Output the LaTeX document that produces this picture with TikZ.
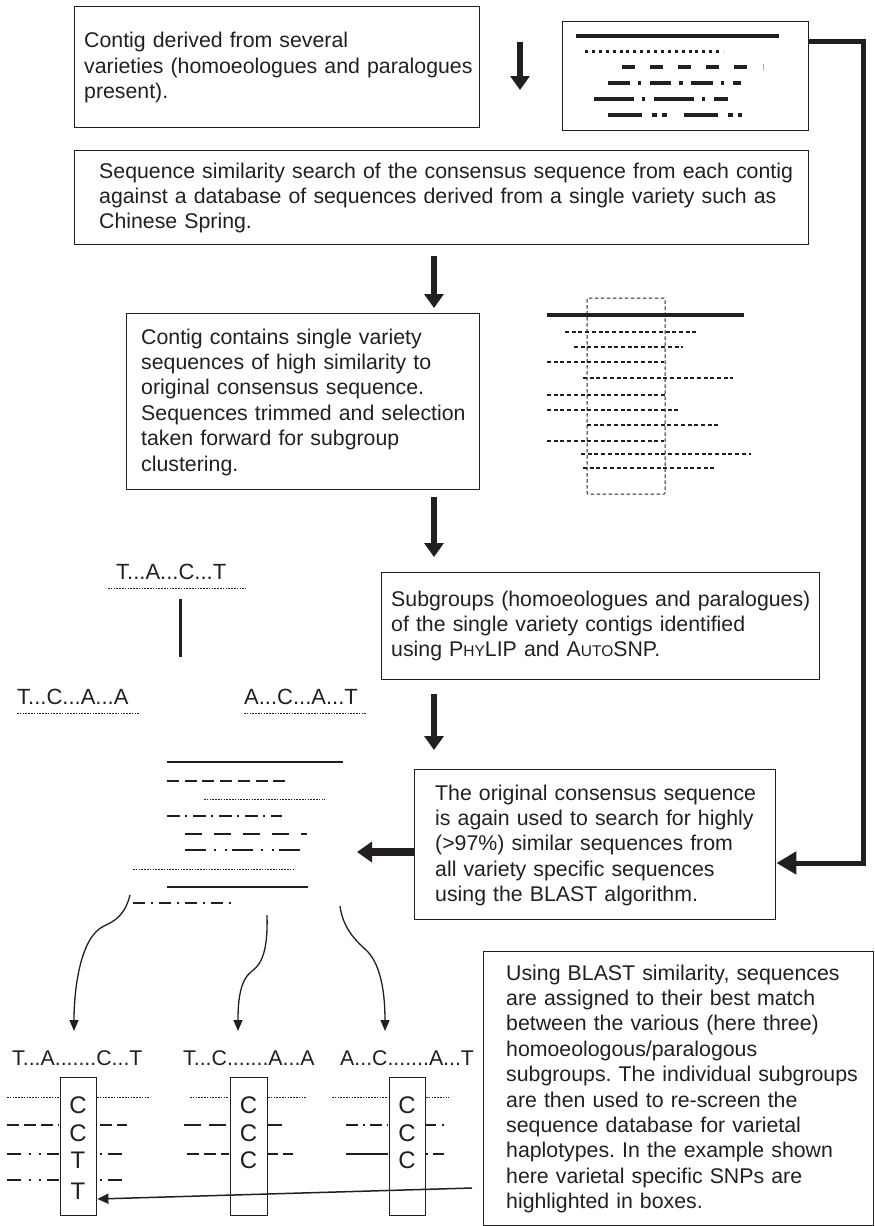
\documentclass[tikz,border=0pt]{standalone}
\usepackage{fontspec}
\setmainfont{Liberation Sans}
\usetikzlibrary{arrows.meta,calc}
\definecolor{ink}{HTML}{231F20}
\frenchspacing
\newcommand\bodyfont{\fontsize{21.3pt}{25.4pt}\selectfont}
\newcommand\treefont{\fontsize{22pt}{25pt}\selectfont}
\newcommand\basefont{\fontsize{24pt}{28pt}\selectfont}
\newcommand\scfont{\fontsize{15.5pt}{15.5pt}\selectfont}
\begin{document}
\begin{tikzpicture}[x=1pt,y=-1pt,
  box/.style={draw=ink, line width=1.4pt, rectangle, inner sep=0pt, anchor=north west},
  txt/.style={font=\bodyfont, align=left, anchor=base west, inner sep=0pt, text=ink},
  fat/.style={draw=ink, line width=6pt, -{Triangle[length=14pt,width=19pt]}},
  fatl/.style={draw=ink, line width=8pt, -{Triangle[length=15pt,width=20pt]}},
  conn/.style={draw=ink, line width=5pt, -{Triangle[length=20pt,width=22pt]}},
  thinarrow/.style={draw=ink, line width=1.3pt, -{Triangle[length=11pt,width=9pt]}},
  fine/.style={draw=ink, line width=0.9pt, dash pattern=on 1.6pt off 1.2pt},
  seq/.style={draw=ink, line width=1.5pt},
]
\useasboundingbox (0,0) rectangle (875,1226);

% ---------- boxes ----------
\node[box, minimum width=405pt, minimum height=121.5pt] (b1) at (74,5.5) {};
\node[box, minimum width=246pt, minimum height=109pt] (b2) at (562,21) {};
\node[box, minimum width=734pt, minimum height=94pt] (b3) at (74,150) {};
\node[box, minimum width=353pt, minimum height=176pt] (b4) at (126,313) {};
\node[box, minimum width=438pt, minimum height=107.5pt] (b5) at (381,571.5) {};
\node[box, minimum width=361pt, minimum height=150pt] (b6) at (414,769) {};
\node[box, minimum width=390pt, minimum height=273.5pt] (b7) at (483,951) {};

% ---------- texts ----------
\node[txt, text width=400pt] (t1) at (84,47.7) {Contig derived from several\\varieties (homoeologues and paralogues\\present).};
\node[txt, text width=720pt] (t3) at (99,178) {Sequence similarity search of the consensus sequence from each contig\\against a database of sequences derived from a single variety such as\\Chinese Spring.};
\node[txt, text width=340pt] (t4) at (141,344) {Contig contains single variety\\sequences of high similarity to\\original consensus sequence.\\Sequences trimmed and selection\\taken forward for subgroup\\clustering.};
\node[txt, text width=430pt] (t5) at (391,606) {Subgroups (homoeologues and paralogues)\\of the single variety contigs identified\\using P{\scfont HY}LIP and A{\scfont UTO}SNP.};
\node[txt, text width=350pt] (t6) at (435,800) {The original consensus sequence\\is again used to search for highly\\(>97\%) similar sequences from\\all variety specific sequences\\using the BLAST algorithm.};
\node[txt, text width=380pt] (t7) at (506,980) {Using BLAST similarity, sequences\\are assigned to their best match\\between the various (here three)\\homoeologous/paralogous\\subgroups. The individual subgroups\\are then used to re-screen the\\sequence database for varietal\\haplotypes. In the example shown\\here varietal specific SNPs are\\highlighted in boxes.};

% ---------- main down arrows ----------
\coordinate (a1s) at (520,42);  \coordinate (a1e) at (520,90);
\coordinate (a2s) at (434,256); \coordinate (a2e) at (434,308);
\coordinate (a3s) at (434,497); \coordinate (a3e) at (434,557);
\coordinate (a4s) at (434,694); \coordinate (a4e) at (434,750);
\draw[fat] (a1s) -- (a1e);
\draw[fat] (a2s) -- (a2e);
\draw[fat] (a3s) -- (a3e);
\draw[fat] (a4s) -- (a4e);

% ---------- right connector from box 2 to box 6 ----------
\draw[conn] ([yshift=-20pt]b2.north east) -- ++(54,0) |- ([yshift=-94pt]b6.north east);

% ---------- arrow from box 6 to alignment ----------
\coordinate (la) at (357,852);
\draw[fatl] ([yshift=-83pt]b6.north west) -- (la);

% ---------- box 2 contents ----------
\draw[ink, line width=4.5pt] (576,36) -- (779,36);
\draw[ink, line width=3pt, dash pattern=on 3pt off 3.9pt] (585,51) -- (723,51);
\draw[ink, line width=3.5pt, dash pattern=on 13pt off 15pt] (622,67) -- (748,67);
\draw[ink!40, line width=1pt] (763,64) -- (763,70);
\draw[ink, line width=3.5pt, dash pattern=on 21.7pt off 8pt on 3.3pt off 8.7pt] (608,83) -- (741,83);
\draw[ink, line width=3.5pt, dash pattern=on 40pt off 8pt on 3.3pt off 8.7pt] (594,99) -- (728,99);
\draw[ink, line width=3.5pt, dash pattern=on 34pt off 10pt on 5pt off 5pt on 4.5pt off 17pt] (608,115) -- (749,115);

% ---------- right middle alignment ----------
\draw[ink, line width=1pt, dash pattern=on 3.5pt off 2.5pt, rounded corners=1pt] (587,298) rectangle (665,494);
\draw[ink, line width=4pt] (547,315) -- (744,315);
\foreach \xa/\xb/\yy in {565/697/332, 574/683/347, 547/664/362, 583/733/378, 547/665/395, 547/679/410, 587/718/425, 547/664/441, 581/751/454, 583/714/468}
  \draw[ink, line width=1.6pt, dash pattern=on 4pt off 2.7pt] (\xa,\yy) -- (\xb,\yy);

% ---------- tree ----------
\node[txt, font=\treefont] (r0) at (116,579) {T...A...C...T};
\draw[fine] (108,588) -- (246,588);
\draw[ink, line width=3pt] (180,599) -- (180,657);
\node[txt, font=\treefont] (r1) at (17,704) {T...C...A...A};
\draw[fine] (17,713) -- (140,713);
\node[txt, font=\treefont] (r2) at (244,704) {A...C...A...T};
\draw[fine] (244,713) -- (367,713);

% ---------- middle left alignment ----------
\draw[seq] (167,762) -- (343,762);
\draw[seq, dash pattern=on 12pt off 5.7pt] (167,781) -- (290,781);
\draw[fine] (204,799) -- (325,799);
\draw[seq, dash pattern=on 13pt off 5pt on 2pt off 6pt] (167,816) -- (282,816);
\draw[ink, line width=1.8pt, dash pattern=on 17pt off 12pt] (185,834) -- (307,834);
\draw[ink, line width=1.8pt, dash pattern=on 21pt off 8pt on 2pt off 9pt on 2pt off 5pt] (185,850) -- (307,850);
\draw[fine] (133,869) -- (294,869);
\draw[seq] (167,887) -- (308,887);
\draw[seq, dash pattern=on 12pt off 6pt on 2pt off 6pt] (133,903) -- (232,903);

% ---------- curved arrows ----------
\coordinate (cA) at (130,895); \coordinate (cAe) at (74,1031);
\coordinate (cB) at (267,915); \coordinate (cBe) at (238,1031);
\coordinate (cC) at (340,906); \coordinate (cCe) at (385,1031);
\draw[thinarrow] (cA) .. controls (125,915) and (115,921) .. (104,926) .. controls (80,937) and (74,990) .. (cAe);
\draw[thinarrow] (cB) .. controls (268,950) and (262,964) .. (252,971) .. controls (240,980) and (238,1000) .. (cBe);
\draw[thinarrow] (cC) .. controls (343,928) and (355,940) .. (366,950) .. controls (380,963) and (385,990) .. (cCe);

% ---------- bottom columns ----------
\node[txt] (h1) at (12,1065) {T...A.......C...T};
\node[txt] (h2) at (183,1065) {T...C.......A...A};
\node[txt] (h3) at (340,1065) {A...C.......A...T};

\node[box, minimum width=36pt, minimum height=138pt] (c1) at (60,1077) {};
\node[box, minimum width=37pt, minimum height=138pt] (c2) at (230,1077) {};
\node[box, minimum width=36pt, minimum height=138pt] (c3) at (389,1077) {};

\foreach \n/\xx in {1/78, 2/248.5, 3/407} {
  \node[font=\basefont, text=ink, anchor=base, inner sep=0pt] (s\n a) at (\xx,1113) {C};
  \node[font=\basefont, text=ink, anchor=base, inner sep=0pt] (s\n b) at (\xx,1141) {C};
}
\node[font=\basefont, text=ink, anchor=base, inner sep=0pt] (s1c) at (78,1168) {T};
\node[font=\basefont, text=ink, anchor=base, inner sep=0pt] (s1d) at (78,1199) {T};
\node[font=\basefont, text=ink, anchor=base, inner sep=0pt] (s2c) at (248.5,1168) {C};
\node[font=\basefont, text=ink, anchor=base, inner sep=0pt] (s3c) at (407,1168) {C};

% column 1 lines
\draw[fine] (7,1097) -- (59,1097);  \draw[fine] (97,1097) -- (150,1097);
\draw[seq, dash pattern=on 12pt off 5pt] (7,1125) -- (59,1125);
\draw[seq, dash pattern=on 12pt off 5pt] (100,1125) -- (127,1125);
\draw[seq, dash pattern=on 14pt off 8pt on 2pt off 8pt on 2pt off 6pt] (7,1154) -- (59,1154);
\draw[seq, dash pattern=on 2pt off 6pt on 14pt off 8pt] (100,1154) -- (127,1154);
\draw[seq, dash pattern=on 14pt off 8pt on 2pt off 8pt on 2pt off 6pt] (7,1180) -- (59,1180);
\draw[seq, dash pattern=on 2pt off 6pt on 14pt off 8pt] (100,1180) -- (127,1180);
% column 2 lines
\draw[fine] (190,1097) -- (229,1097);  \draw[fine] (268,1097) -- (307,1097);
\draw[seq, dash pattern=on 17pt off 8pt] (184,1125) -- (229,1125);
\draw[seq] (268,1125) -- (282,1125);
\draw[seq, dash pattern=on 12pt off 5pt] (187,1154) -- (229,1154);
\draw[seq, dash pattern=on 10pt off 5pt] (268,1154) -- (293,1154);
% column 3 lines
\draw[fine] (332,1097) -- (388,1097);  \draw[fine] (426,1097) -- (449,1097);
\draw[seq, dash pattern=on 12pt off 5pt on 2pt off 5pt] (346,1125) -- (388,1125);
\draw[seq, dash pattern=on 10pt off 6pt] (426,1125) -- (444,1125);
\draw[seq] (346,1154) -- (388,1154);
\draw[seq, dash pattern=on 2pt off 5pt on 12pt off 5pt] (426,1154) -- (444,1154);

% ---------- arrow from text box 7 to the SNP box ----------
\coordinate (bl) at (472,1188);
\draw[ink, line width=1.5pt, -{Triangle[length=11pt,width=10pt]}] (bl) -- (c1.east |- 0,1199);
\end{tikzpicture}
\end{document}
